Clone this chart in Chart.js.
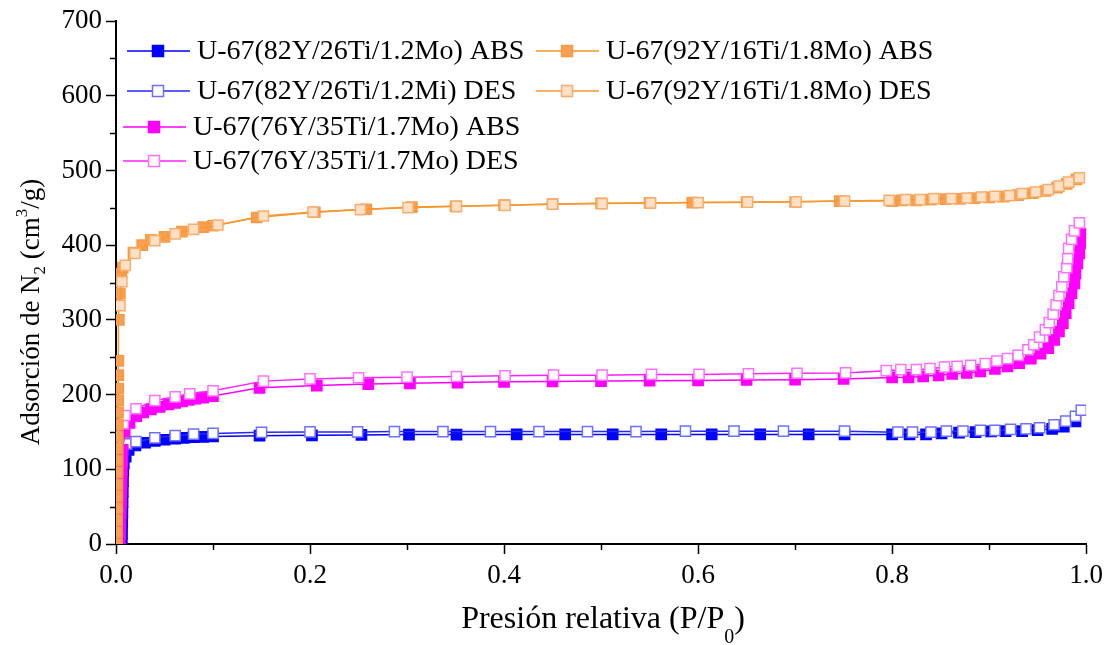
<!DOCTYPE html>
<html>
<head>
<meta charset="utf-8">
<script src="https://cdn.jsdelivr.net/npm/chart.js@4.4.1/dist/chart.umd.min.js"></script>
<style>
  html, body { margin: 0; padding: 0; background: #fff; }
  #wrap { width: 1109px; height: 645px; }
</style>
</head>
<body>
<div id="wrap"><canvas id="isoChart" width="1109" height="645"></canvas></div>
<script>
// N2 isotherms, relative pressure P/P0 vs adsorbed volume (cm3/g)
const seriesLabels = [
  "U-67(82Y/26Ti/1.2Mo) ABS",
  "U-67(82Y/26Ti/1.2Mi) DES",
  "U-67(76Y/35Ti/1.7Mo) ABS",
  "U-67(76Y/35Ti/1.7Mo) DES",
  "U-67(92Y/16Ti/1.8Mo) ABS",
  "U-67(92Y/16Ti/1.8Mo) DES"
];

const blueAbsP = [0.006, 0.0062, 0.0064, 0.0066, 0.0068, 0.007, 0.0072, 0.0075, 0.008,
  0.01, 0.013, 0.02, 0.03, 0.04, 0.05, 0.061, 0.07, 0.08, 0.09, 0.1,
  0.148, 0.202, 0.253, 0.302, 0.351, 0.413, 0.463, 0.512, 0.562, 0.614, 0.664, 0.714, 0.751,
  0.8, 0.818, 0.835, 0.851, 0.869, 0.886, 0.902, 0.917, 0.934, 0.95, 0.965, 0.977, 0.989];
const blueAbsV = [0, 14, 28, 42, 56, 70, 84, 98, 108,
  117, 126, 132, 135.5, 138, 139.5, 141, 142, 143, 143.5, 144,
  145, 145.5, 146, 146.5, 146.5, 146.7, 146.7, 146.7, 146.7, 146.7, 146.7, 146.7, 146.7,
  146.7, 146.7, 146.7, 148, 149, 149.8, 150.7, 151, 151, 152.4, 154.2, 157, 164];

const blueDesP = [0.006, 0.011, 0.0206, 0.04, 0.061, 0.08, 0.1, 0.15, 0.2,
  0.249, 0.287, 0.337, 0.386, 0.436, 0.486, 0.536, 0.587, 0.637, 0.688, 0.751,
  0.806, 0.821, 0.84, 0.856, 0.873, 0.891, 0.906, 0.922, 0.938, 0.952, 0.967, 0.979, 0.989, 0.995];
const blueDesV = [127, 134, 137, 142, 145, 147, 148, 149.5, 150,
  150, 150.5, 150.5, 150.5, 150.5, 150.5, 150.5, 151, 151, 151, 151,
  149.7, 149.7, 149.7, 151, 151, 152, 152, 153.3, 154.2, 155.6, 159.6, 164.4, 171, 179];

const pinkAbsP = [0.004, 0.0043, 0.0046, 0.0049, 0.0052, 0.0055, 0.0058, 0.0061, 0.0065, 0.007,
  0.009, 0.014, 0.021, 0.028, 0.036, 0.045, 0.054, 0.061, 0.068, 0.075, 0.082, 0.09, 0.1,
  0.148, 0.207, 0.26, 0.303, 0.352, 0.4, 0.45, 0.5, 0.55, 0.6, 0.65, 0.7, 0.75,
  0.8, 0.817, 0.832, 0.848, 0.862, 0.877, 0.891, 0.906, 0.919, 0.931, 0.943, 0.953, 0.961,
  0.967, 0.972, 0.976, 0.979, 0.982, 0.985, 0.988, 0.989, 0.991, 0.993, 0.994, 0.995];
const pinkAbsV = [0, 14, 28, 42, 56, 70, 84, 98, 112, 126,
  150, 162, 171, 176, 180, 183.5, 186.7, 189, 191, 193, 194.5, 196, 198,
  209, 212, 214, 215, 216, 217, 217.5, 218, 218.5, 219, 219.5, 220, 221,
  223, 223, 224.4, 225.8, 227.6, 229, 231, 234.2, 237.8, 242.2, 248, 254.7, 262.2,
  273.3, 284.4, 295.6, 308.9, 322.2, 335.6, 348.9, 362.2, 375.6, 388.9, 402.2, 415.6];

const pinkDesP = [0.0075, 0.0093, 0.0206, 0.04, 0.061, 0.076, 0.1, 0.152, 0.2,
  0.25, 0.3, 0.351, 0.401, 0.451, 0.501, 0.552, 0.601, 0.652, 0.702, 0.752,
  0.794, 0.809, 0.825, 0.839, 0.854, 0.867, 0.881, 0.896, 0.908, 0.919, 0.93, 0.94, 0.946,
  0.952, 0.958, 0.962, 0.966, 0.969, 0.972, 0.975, 0.977, 0.98, 0.981, 0.982, 0.985, 0.988, 0.993];
const pinkDesV = [161, 172, 181, 192, 197, 201, 205, 218, 221,
  222.5, 223.3, 224.2, 225.1, 226, 226, 227, 227, 227.8, 228.5, 229,
  232, 233.3, 233.3, 234.7, 236.9, 237.8, 239, 241.3, 244.9, 248, 252.4, 260, 266.7,
  277, 286.7, 296.4, 307.6, 320, 332.4, 344.4, 357.8, 369.8, 382, 395.6, 407.6, 419, 429.8];

const orangeAbsP = [0.001, 0.0011, 0.0012, 0.0013, 0.0014, 0.0015, 0.0016, 0.0017, 0.0018, 0.0019,
  0.002, 0.0021, 0.0022, 0.0023, 0.0024, 0.0025, 0.003, 0.004, 0.0055, 0.007,
  0.018, 0.027, 0.036, 0.05, 0.068, 0.09, 0.1,
  0.145, 0.205, 0.258, 0.305, 0.35, 0.4, 0.45, 0.5, 0.55, 0.594, 0.65, 0.7, 0.746,
  0.8, 0.81, 0.825, 0.84, 0.855, 0.87, 0.885, 0.9, 0.915, 0.93, 0.945, 0.958, 0.97, 0.98, 0.99];
const orangeAbsV = [0, 16, 32, 48, 64, 80, 96, 112, 128, 144,
  160, 176, 192, 208, 226, 245, 300, 335, 362, 370,
  390, 400, 407, 411, 418, 424, 426,
  437, 444, 448, 451, 452, 453.5, 455, 456, 456.5, 457, 457.5, 458, 459,
  459, 460, 460, 461, 461.5, 462, 463, 464, 465, 467, 469.5, 472.5, 477, 482, 488];

const orangeDesP = [0.004, 0.006, 0.0096, 0.0195, 0.04, 0.061, 0.08, 0.105, 0.152, 0.203,
  0.252, 0.301, 0.351, 0.401, 0.45, 0.501, 0.551, 0.6, 0.651, 0.701, 0.751,
  0.797, 0.814, 0.829, 0.843, 0.861, 0.877, 0.892, 0.906, 0.921, 0.934, 0.948, 0.961, 0.972, 0.982, 0.993];
const orangeDesV = [319, 351, 373, 389, 406, 415, 421, 427, 439, 444.4,
  447.6, 450.2, 452, 453.3, 454.7, 455.6, 456.4, 457, 457.5, 458, 459,
  460, 460.9, 460.9, 462.2, 462.2, 463.1, 464.4, 465.3, 466.2, 468.9, 471.1, 474.2, 479.1, 484.4, 490.2];

const xTicks = [0, 0.2, 0.4, 0.6, 0.8, 1.0];
const yTicks = [0, 100, 200, 300, 400, 500, 600, 700];

const FONT = '"Liberation Serif", "Times New Roman", serif';

const toPoints = (p, v) => p.map((x, i) => ({ x: x, y: v[i] }));

function series(label, p, v, line, fill, edge, order) {
  return {
    label: label,
    data: toPoints(p, v),
    borderColor: line,
    borderWidth: 1.5,
    backgroundColor: fill,
    pointStyle: "rect",
    pointRadius: 7.2,
    pointBackgroundColor: fill,
    pointBorderColor: edge,
    pointBorderWidth: 1.5,
    fill: false,
    tension: 0,
    order: order
  };
}

const datasets = [
  series(seriesLabels[0], blueAbsP, blueAbsV, "#0000ff", "#0000ff", "#0000ff", 5),
  series(seriesLabels[1], blueDesP, blueDesV, "#2626ff", "#ffffff", "#6f6fff", 4),
  series(seriesLabels[2], pinkAbsP, pinkAbsV, "#ff00ff", "#ff00ff", "#ff00ff", 3),
  series(seriesLabels[3], pinkDesP, pinkDesV, "#ff22ff", "#ffffff", "#ff70ff", 2),
  series(seriesLabels[4], orangeAbsP, orangeAbsV, "#f7922a", "#f7a052", "#f79a44", 1),
  series(seriesLabels[5], orangeDesP, orangeDesV, "#f7982f", "#fde0c6", "#f9ad6a", 0)
];

// short minor ticks between the labelled ones
const minorTicks = {
  id: "minorTicks",
  afterDraw(chart) {
    const { ctx, chartArea, scales } = chart;
    ctx.save();
    ctx.strokeStyle = "#000";
    ctx.lineWidth = 1.5;
    ctx.beginPath();
    for (let i = 0; i < xTicks.length - 1; i++) {
      const px = Math.round(scales.x.getPixelForValue((xTicks[i] + xTicks[i + 1]) / 2)) + 0.5;
      ctx.moveTo(px, chartArea.bottom);
      ctx.lineTo(px, chartArea.bottom + 6);
    }
    for (let i = 0; i < yTicks.length - 1; i++) {
      const py = Math.round(scales.y.getPixelForValue((yTicks[i] + yTicks[i + 1]) / 2)) + 0.5;
      ctx.moveTo(chartArea.left, py);
      ctx.lineTo(chartArea.left - 6, py);
    }
    ctx.stroke();
    ctx.restore();
  }
};

// text runs with sub/superscripts
function drawRuns(ctx, runs, cx, cy) {
  let total = 0;
  runs.forEach(r => {
    ctx.font = r.size + "px " + FONT;
    r.w = ctx.measureText(r.t).width;
    total += r.w;
  });
  let x = cx - total / 2;
  runs.forEach(r => {
    ctx.font = r.size + "px " + FONT;
    ctx.fillText(r.t, x, cy + (r.dy || 0));
    x += r.w;
  });
}

const axisTitles = {
  id: "axisTitles",
  afterDraw(chart) {
    const ctx = chart.ctx;
    ctx.save();
    ctx.fillStyle = "#000";
    ctx.textAlign = "left";
    ctx.textBaseline = "alphabetic";
    drawRuns(ctx, [
      { t: "Presión relativa (P/P", size: 32 },
      { t: "0", size: 20, dy: 15 },
      { t: ")", size: 32 }
    ], 603, 628);
    ctx.translate(39, 312);
    ctx.rotate(-Math.PI / 2);
    drawRuns(ctx, [
      { t: "Adsorción de N", size: 27 },
      { t: "2", size: 17, dy: 6 },
      { t: " (cm", size: 27 },
      { t: "3", size: 17, dy: -12 },
      { t: "/g)", size: 27 }
    ], 0, 0);
    ctx.restore();
  }
};

// two-column key inside the plot
const keyRows = [
  { ds: 0, x: 127, y: 51 },
  { ds: 1, x: 127, y: 91 },
  { ds: 2, x: 123, y: 127 },
  { ds: 3, x: 123, y: 161 },
  { ds: 4, x: 536, y: 51 },
  { ds: 5, x: 536, y: 91 }
];

const seriesKey = {
  id: "seriesKey",
  afterDraw(chart) {
    const ctx = chart.ctx;
    ctx.save();
    ctx.font = "28px " + FONT;
    ctx.textBaseline = "middle";
    ctx.textAlign = "left";
    keyRows.forEach(row => {
      const ds = chart.data.datasets[row.ds];
      ctx.strokeStyle = ds.borderColor;
      ctx.lineWidth = 1.5;
      ctx.beginPath();
      ctx.moveTo(row.x, row.y);
      ctx.lineTo(row.x + 63, row.y);
      ctx.stroke();
      const s = 11;
      const mx = row.x + 31;
      ctx.fillStyle = ds.pointBackgroundColor;
      ctx.fillRect(mx - s / 2, row.y - s / 2, s, s);
      ctx.strokeStyle = ds.pointBorderColor;
      ctx.strokeRect(mx - s / 2, row.y - s / 2, s, s);
      ctx.fillStyle = "#000";
      ctx.fillText(ds.label, row.x + 70, row.y + 1);
    });
    ctx.restore();
  }
};

const isoChart = new Chart(document.getElementById("isoChart").getContext("2d"), {
  type: "line",
  data: { datasets: datasets },
  options: {
    responsive: false,
    animation: false,
    events: [],
    layout: { padding: { top: 21, right: 22, left: 0, bottom: 0 } },
    plugins: {
      legend: { display: false },
      tooltip: { enabled: false }
    },
    scales: {
      x: {
        type: "linear",
        min: 0,
        max: 1,
        afterBuildTicks: s => { s.ticks = xTicks.map(v => ({ value: v })); },
        afterFit: s => { s.height = 101; },
        ticks: {
          color: "#000",
          font: { family: FONT, size: 27 },
          padding: 6,
          maxRotation: 0,
          callback: v => v.toFixed(1)
        },
        grid: { drawOnChartArea: false, tickLength: 10, tickColor: "#000", tickWidth: 1.5 },
        border: { color: "#000", width: 2 }
      },
      y: {
        min: 0,
        max: 700,
        afterBuildTicks: s => { s.ticks = yTicks.map(v => ({ value: v })); },
        afterFit: s => { s.width = 116; },
        ticks: {
          color: "#000",
          font: { family: FONT, size: 27 },
          padding: 4,
          callback: v => String(v)
        },
        grid: { drawOnChartArea: false, tickLength: 10, tickColor: "#000", tickWidth: 1.5 },
        border: { color: "#000", width: 2 }
      }
    }
  },
  plugins: [minorTicks, axisTitles, seriesKey]
});
</script>
</body>
</html>
